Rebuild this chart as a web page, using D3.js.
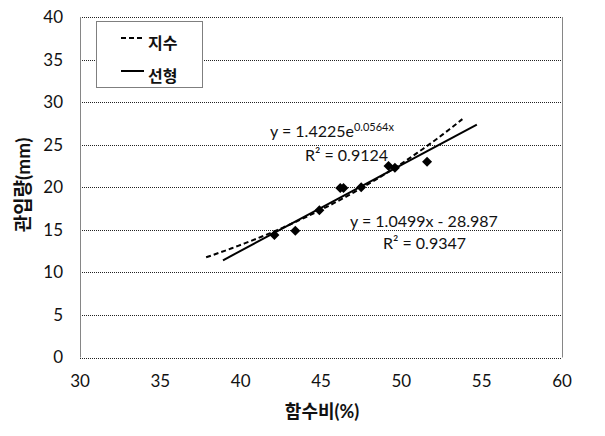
<!DOCTYPE html>
<html>
<head>
<meta charset="utf-8">
<script src="https://cdn.jsdelivr.net/npm/d3@7"></script>
<style>
  body { margin: 0; background: #fff; }
  svg text { font-family: Lato, 'Noto Sans CJK KR', sans-serif; fill: #111; }
</style>
</head>
<body>
<div id="wrapper"></div>
<script>
// data
const waterContent = [42.1, 43.4, 44.9, 46.2, 46.4, 47.5, 49.2, 49.6, 51.6];
const penetration = [14.4, 14.9, 17.3, 19.9, 19.9, 20.0, 22.5, 22.3, 23.0];
const xTicks = [30, 35, 40, 45, 50, 55, 60];
const yTicks = [0, 5, 10, 15, 20, 25, 30, 35, 40];
const linearRange = [38.9, 54.7];
const expRange = [37.85, 53.8];
const legendNames = ['지수', '선형'];
const expLabel = ['y = 1.4225e', '0.0564x', 'R² = 0.9124'];
const linLabel = ['y = 1.0499x - 28.987', 'R² = 0.9347'];

function drawChart() {
  // 1. dimensions
  const width = 605;
  const height = 436;
  const plot = { left: 80, right: 562, top: 17, bottom: 357.5 };

  const svg = d3.select('#wrapper')
    .append('svg')
    .attr('width', width)
    .attr('height', height);

  // 2. scales
  const x = d3.scaleLinear().domain([30, 60]).range([plot.left, plot.right]);
  const y = d3.scaleLinear().domain([0, 40]).range([plot.bottom, plot.top]);

  // 3. grid + frame
  svg.append('g')
    .selectAll('line')
    .data(yTicks)
    .join('line')
    .attr('x1', plot.left)
    .attr('x2', plot.right)
    .attr('y1', d => Math.round(y(d)) + 0.5)
    .attr('y2', d => Math.round(y(d)) + 0.5)
    .attr('stroke', '#222')
    .attr('stroke-width', 1)
    .attr('stroke-dasharray', '1,1');

  [plot.left, plot.right].forEach(px => {
    svg.append('line')
      .attr('x1', px + 0.5).attr('x2', px + 0.5)
      .attr('y1', y(40)).attr('y2', y(0))
      .attr('stroke', '#868686');
  });

  // 4. axis labels
  svg.append('g')
    .selectAll('text')
    .data(yTicks)
    .join('text')
    .attr('x', 63)
    .attr('y', d => y(d))
    .attr('dy', '0.35em')
    .attr('text-anchor', 'end')
    .attr('font-size', 17)
    .text(d => d);

  svg.append('g')
    .selectAll('text')
    .data(xTicks)
    .join('text')
    .attr('x', d => x(d))
    .attr('y', 381)
    .attr('dy', '0.35em')
    .attr('text-anchor', 'middle')
    .attr('font-size', 17)
    .text(d => d);

  svg.append('text')
    .attr('x', 322)
    .attr('y', 412)
    .attr('dy', '0.35em')
    .attr('text-anchor', 'middle')
    .attr('font-size', 18)
    .attr('font-weight', 'bold')
    .text('함수비(%)');

  svg.append('text')
    .attr('transform', 'translate(23,185) rotate(-90)')
    .attr('dy', '0.35em')
    .attr('text-anchor', 'middle')
    .attr('font-size', 19)
    .attr('font-weight', 'bold')
    .text('관입량(mm)');

  // 5. trendlines, fitted from the points
  const mx = d3.mean(waterContent);
  const my = d3.mean(penetration);
  let sxy = 0, sxx = 0;
  waterContent.forEach((v, i) => {
    sxy += (v - mx) * (penetration[i] - my);
    sxx += (v - mx) * (v - mx);
  });
  const slope = sxy / sxx;
  const intercept = my - slope * mx;

  const logY = penetration.map(Math.log);
  const mly = d3.mean(logY);
  let sxl = 0;
  waterContent.forEach((v, i) => { sxl += (v - mx) * (logY[i] - mly); });
  const b = sxl / sxx;
  const a = Math.exp(mly - b * mx);

  const line = d3.line().x(d => x(d[0])).y(d => y(d[1]));

  const expPts = d3.range(0, 41).map(i => {
    const xv = expRange[0] + (expRange[1] - expRange[0]) * i / 40;
    return [xv, a * Math.exp(b * xv)];
  });
  svg.append('path')
    .attr('d', line(expPts))
    .attr('fill', 'none')
    .attr('stroke', '#000')
    .attr('stroke-width', 2)
    .attr('stroke-dasharray', '5,3');

  svg.append('path')
    .attr('d', line(linearRange.map(v => [v, slope * v + intercept])))
    .attr('fill', 'none')
    .attr('stroke', '#000')
    .attr('stroke-width', 2);

  // 6. points (diamonds)
  const diamond = d3.symbol().type(d3.symbolSquare).size(50);
  svg.append('g')
    .selectAll('path')
    .data(waterContent)
    .join('path')
    .attr('d', diamond)
    .attr('transform', (d, i) => `translate(${x(d)},${y(penetration[i])}) rotate(45)`)
    .attr('fill', '#000');

  // 7. equation labels
  const eq1 = svg.append('text')
    .attr('x', 270)
    .attr('y', 137)
    .attr('font-size', 16);
  eq1.append('tspan').text(expLabel[0]);
  eq1.append('tspan').attr('dy', -6).attr('font-size', 11).text(expLabel[1]);
  svg.append('text')
    .attr('x', 305).attr('y', 161)
    .attr('font-size', 16)
    .text(expLabel[2]);

  svg.append('text')
    .attr('x', 350).attr('y', 227)
    .attr('font-size', 16)
    .text(linLabel[0]);
  svg.append('text')
    .attr('x', 383).attr('y', 249)
    .attr('font-size', 16)
    .text(linLabel[1]);

  // 8. legend
  const legend = svg.append('g');
  legend.append('rect')
    .attr('x', 96.5).attr('y', 21.5)
    .attr('width', 106).attr('height', 66)
    .attr('fill', '#fff')
    .attr('stroke', '#7f7f7f');

  const rows = legend.selectAll('g')
    .data(legendNames)
    .join('g')
    .attr('transform', (d, i) => `translate(0,${40 + i * 33})`);
  rows.append('line')
    .attr('x1', 121).attr('x2', 144)
    .attr('y1', -2).attr('y2', -2)
    .attr('stroke', '#000')
    .attr('stroke-width', 2)
    .attr('stroke-dasharray', (d, i) => i === 0 ? '5,3' : null);
  rows.append('text')
    .attr('x', 148)
    .attr('y', 3)
    .attr('dy', '0.35em')
    .attr('font-size', 16)
    .attr('font-weight', 'bold')
    .text(d => d);
}
drawChart();
</script>
</body>
</html>
